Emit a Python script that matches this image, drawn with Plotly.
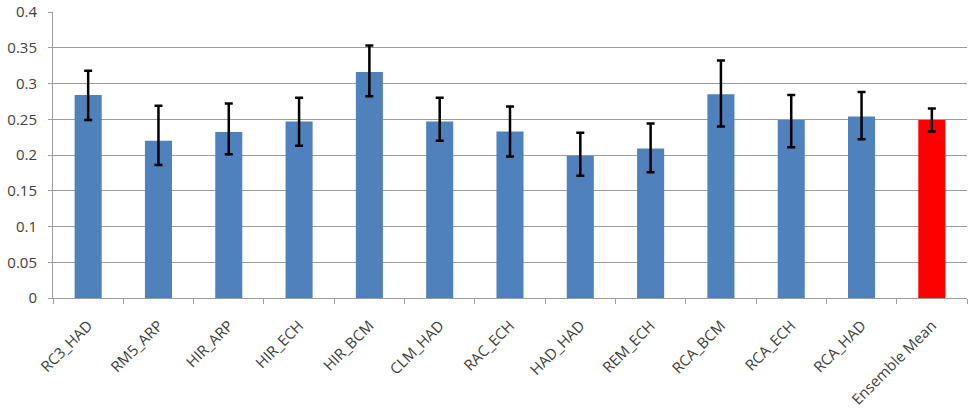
import plotly.graph_objects as go

categories = ["RC3_HAD", "RM5_ARP", "HIR_ARP", "HIR_ECH", "HIR_BCM", "CLM_HAD", "RAC_ECH",
              "HAD_HAD", "REM_ECH", "RCA_BCM", "RCA_ECH", "RCA_HAD", "Ensemble Mean"]
values = [0.284, 0.220, 0.232, 0.247, 0.316, 0.247, 0.233, 0.199, 0.209, 0.285, 0.249, 0.254, 0.249]
err_plus = [0.034, 0.049, 0.040, 0.033, 0.037, 0.033, 0.035, 0.032, 0.035, 0.047, 0.035, 0.034, 0.016]
err_minus = [0.035, 0.034, 0.031, 0.034, 0.034, 0.027, 0.035, 0.028, 0.033, 0.045, 0.038, 0.032, 0.016]
bar_colors = ["#4F81BD"] * 12 + ["#FF0000"]

fig = go.Figure(go.Bar(
    x=categories, y=values,
    marker=dict(color=bar_colors, line=dict(width=0)),
    error_y=dict(type="data", symmetric=False, array=err_plus, arrayminus=err_minus,
                 color="black", thickness=2.5, width=4),
    width=0.385,
))

fig.update_layout(
    width=978, height=412,
    margin=dict(l=53, r=11, t=12, b=114),
    paper_bgcolor="white", plot_bgcolor="white",
    showlegend=False,
    font=dict(family="Open Sans, Liberation Sans, sans-serif", size=15, color="#404040"),
)
fig.update_yaxes(range=[0, 0.4], dtick=0.05, showgrid=True, gridcolor="#9C9C9C", gridwidth=1,
                 showline=True, linecolor="#9C9C9C", ticks="outside", ticklen=4, tickcolor="#9C9C9C",
                 zeroline=False, automargin=False, ticklabelstandoff=8,
                 tickfont=dict(size=15, color="#404040"))
fig.update_xaxes(tickangle=-45, showline=True, linecolor="#9C9C9C", ticks="outside", ticklen=5,
                 tickcolor="#9C9C9C", tickson="boundaries", showgrid=False, automargin=False,
                 ticklabelstandoff=12, tickfont=dict(size=15, color="#404040"))

fig.write_html("out.html")
